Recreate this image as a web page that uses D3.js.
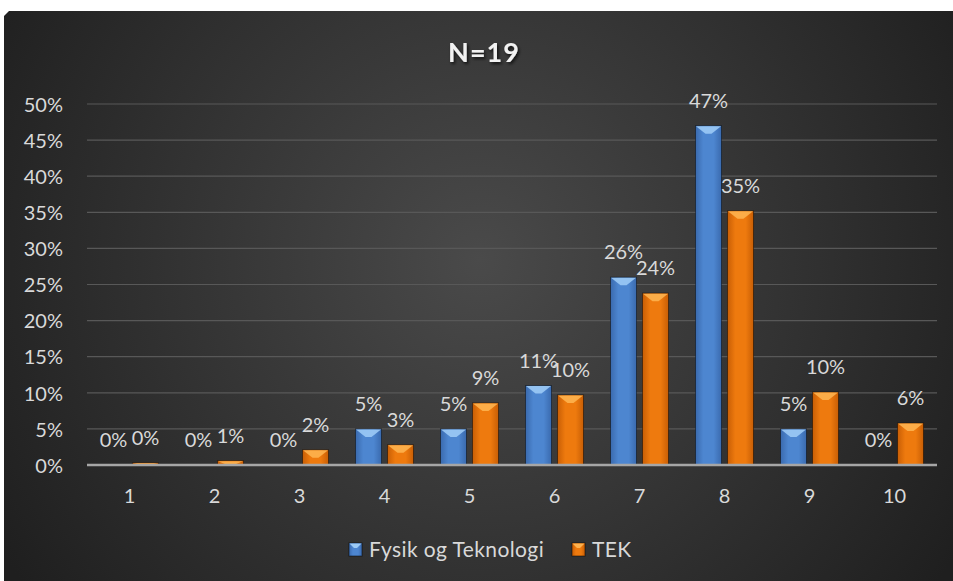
<!DOCTYPE html>
<html><head><meta charset="utf-8">
<script src="https://cdn.jsdelivr.net/npm/d3@7"></script>
<style>html,body{margin:0;padding:0;background:#fff;}svg{display:block;}</style>
</head><body>
<svg id="chart" width="953" height="581"></svg>
<script>
const categories = ["1","2","3","4","5","6","7","8","9","10"];
const seriesNames = ["Fysik og Teknologi","TEK"];
const fysik = [0, 0, 0, 0.05, 0.05, 0.11, 0.26, 0.47, 0.05, 0];
const tek = [0.003, 0.006, 0.021, 0.028, 0.086, 0.097, 0.238, 0.352, 0.101, 0.058];
const yTicks = [0,0.05,0.1,0.15,0.2,0.25,0.3,0.35,0.4,0.45,0.5];
const title = "N=19";

const svg = d3.select("#chart");
const font = "Lato, 'Open Sans', sans-serif";
const fs = 20;
const defs = svg.append("defs");

const bg = defs.append("radialGradient").attr("id","bg").attr("gradientUnits","userSpaceOnUse")
  .attr("cx",480).attr("cy",260).attr("r",560);
bg.append("stop").attr("offset","0%").attr("stop-color","#4a4a4a");
bg.append("stop").attr("offset","100%").attr("stop-color","#1f1f1f");

function barGrad(id, dark, mid){
  const g = defs.append("linearGradient").attr("id",id).attr("x1","0").attr("x2","1").attr("y1","0").attr("y2","0");
  g.append("stop").attr("offset","0%").attr("stop-color",dark);
  g.append("stop").attr("offset","30%").attr("stop-color",mid);
  g.append("stop").attr("offset","70%").attr("stop-color",mid);
  g.append("stop").attr("offset","100%").attr("stop-color",dark);
}
barGrad("gBlue","#3a6aae","#4d86d0");
barGrad("gOrange","#c85e05","#ee7a0e");
const topCol = {blue:"#9ccaf5", orange:"#fdb24f"};
const shadow = defs.append("filter").attr("id","ts").attr("x","-20%").attr("y","-20%").attr("width","140%").attr("height","160%");
shadow.append("feDropShadow").attr("dx",1.5).attr("dy",2).attr("stdDeviation",1.5).attr("flood-color","#000").attr("flood-opacity",0.7);

svg.append("path").attr("d","M4,16 L9,11 L953,11 L953,581 L4,581 Z").attr("fill","url(#bg)");

const x = d3.scaleBand().domain(categories).range([87,937]);
const y = d3.scaleLinear().domain([0,0.5]).range([465,104]);

svg.append("g").selectAll("line").data(yTicks.filter(d=>d>0)).join("line")
  .attr("x1",87).attr("x2",937).attr("y1",d=>y(d)).attr("y2",d=>y(d))
  .attr("stroke","#585858").attr("stroke-width",1.2);

const yAxis = d3.axisLeft(y).tickValues(yTicks).tickFormat(d3.format(".0%")).tickSize(0).tickPadding(0);
const gy = svg.append("g").attr("transform","translate(63,0)").call(yAxis);
gy.select(".domain").remove();
gy.selectAll("text").attr("fill","#d9d9d9").attr("font-size",fs).attr("font-family",font).attr("dy","0.36em");

const xAxis = d3.axisBottom(x).tickSize(0).tickPadding(0);
const gx = svg.append("g").attr("transform","translate(0,465)").call(xAxis);
gx.select(".domain").remove();
gx.selectAll("text").attr("fill","#d9d9d9").attr("font-size",fs).attr("font-family",font).attr("dy","0").attr("y",38);

const bw = 26, off = 16;
const series = [
  {vals:fysik, grad:"url(#gBlue)", top:topCol.blue, dx:-off},
  {vals:tek, grad:"url(#gOrange)", top:topCol.orange, dx:off}
];
series.forEach(s=>{
  const g = svg.append("g");
  const data = categories.map((c,i)=>({c, v:s.vals[i]}));
  const cx = d=> x(d.c)+x.bandwidth()/2 + s.dx;
  g.selectAll("rect").data(data.filter(d=>d.v>0)).join("rect")
    .attr("x",d=>cx(d)-bw/2).attr("width",bw)
    .attr("y",d=>y(d.v)).attr("height",d=>y(0)-y(d.v))
    .attr("fill",s.grad).attr("stroke","rgba(0,0,0,0.45)").attr("stroke-width",1);
  g.selectAll("path.bev").data(data.filter(d=>d.v>0)).join("path").attr("class","bev")
    .attr("d",d=>{
      const x0 = cx(d)-bw/2, x1 = cx(d)+bw/2, t = y(d.v);
      const h = Math.min(8, (y(0)-t));
      return `M${x0+0.5},${t+0.5} L${x1-0.5},${t+0.5} L${cx(d)+3},${t+h} L${cx(d)-3},${t+h} Z`;
    })
    .attr("fill",s.top).attr("opacity",0.9);
  g.selectAll("text").data(data).join("text")
    .attr("x",d=>cx(d)).attr("y",d=>y(d.v)-18)
    .attr("text-anchor","middle").attr("fill","#d9d9d9").attr("font-size",fs).attr("font-family",font)
    .text(d=>d3.format(".0%")(d.v));
});

svg.append("line").attr("x1",87).attr("x2",937).attr("y1",y(0)).attr("y2",y(0))
  .attr("stroke","#a6a6a6").attr("stroke-width",2.5);

svg.append("text").attr("x",484).attr("y",62).attr("text-anchor","middle")
  .attr("fill","#f2f2f2").attr("font-size",27).attr("font-weight","bold").attr("font-family",font)
  .attr("letter-spacing",1).attr("filter","url(#ts)").text(title);

const leg = svg.append("g");
const legItems = [
  {name:seriesNames[0], grad:"url(#gBlue)", top:topCol.blue, x:349},
  {name:seriesNames[1], grad:"url(#gOrange)", top:topCol.orange, x:572}
];
legItems.forEach(it=>{
  leg.append("rect").attr("x",it.x).attr("y",543).attr("width",13).attr("height",13)
    .attr("fill",it.grad).attr("stroke","rgba(0,0,0,0.5)");
  leg.append("path").attr("d",`M${it.x+0.5},${543.5} L${it.x+12.5},${543.5} L${it.x+8},${548} L${it.x+5},${548} Z`).attr("fill",it.top);
  leg.append("text").attr("x",it.x+20).attr("y",557).attr("fill","#d9d9d9").attr("font-size",21).attr("letter-spacing",0.4).attr("font-family",font).text(it.name);
});
</script>
</body></html>
